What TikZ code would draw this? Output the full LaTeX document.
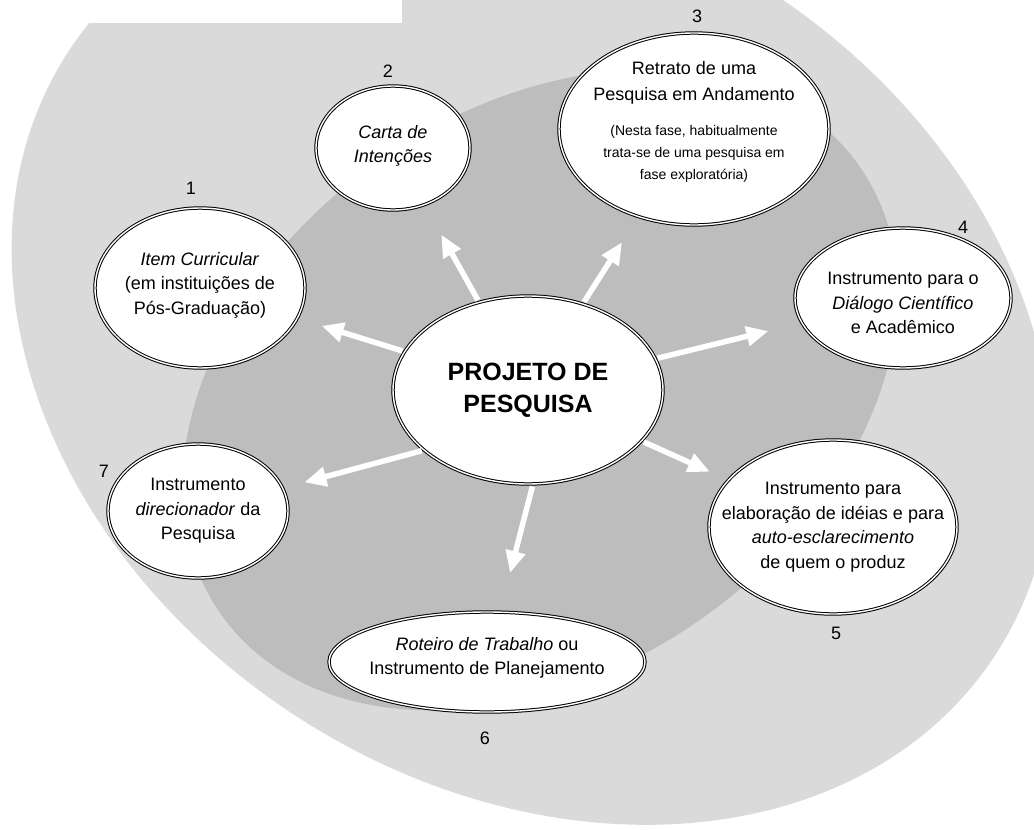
\documentclass[tikz,border=0pt]{standalone}
\usepackage{fontspec}
\setmainfont{Liberation Sans}
\usepackage{tikz}
\usetikzlibrary{arrows.meta,shapes.geometric}
\definecolor{fogouter}{HTML}{DADADA}
\definecolor{foginner}{HTML}{BDBDBD}

\begin{document}
\begin{tikzpicture}[x=1pt, y=-1pt,
  bubble/.style={ellipse, draw=black, line width=1pt, double=white,
    double distance=1.4pt, fill=white, inner sep=0pt},
  bubbletext/.style={font=\fontsize{18}{24.5}\selectfont, align=center, inner sep=0pt},
  numtag/.style={font=\fontsize{18}{20}\selectfont, inner sep=1pt},
  ray/.style={draw=white, line width=5.5pt, shorten <=2,
    -{Triangle[length=22pt, width=19pt]}}]
  \useasboundingbox (0,0) rectangle (1034,830);
  % Background fog
  \begin{scope}
    \clip (0,0) rectangle (1034,830);
    \fill[fogouter, rotate around={-33:(532,353)}] (532,353)
      ellipse [x radius=553, y radius=433];
    \fill[foginner, rotate around={35:(540,390)}] (540,390)
      ellipse [x radius=390, y radius=280];
    \fill[white] (0,0) rectangle (402,23);
  \end{scope}
  % Central bubble
  \node[bubble, minimum width=270, minimum height=188,
    label={[bubbletext, font=\bfseries\fontsize{25}{32}\selectfont]center:{PROJETO DE\\PESQUISA}}]
    (pp) at (528,390) {};
  % Outer bubbles
  \node[bubble, minimum width=210, minimum height=160,
    label={[bubbletext, yshift=3]center:{\textit{Item Curricular}\\(em instituições de\\Pós-Graduação)}}]
    (b1) at (200,288) {};
  \node[bubble, minimum width=154, minimum height=124,
    label={[bubbletext, yshift=2]center:{\textit{Carta de}\\\textit{Intenções}}}]
    (b2) at (393,148) {};
  \node[bubble, minimum width=270, minimum height=192,
    label={[bubbletext, font=\fontsize{14}{22}\selectfont, yshift=7]center:{%
      \fontsize{18}{22}\selectfont Retrato de uma\\[4pt]
      \fontsize{18}{22}\selectfont Pesquisa em Andamento\\[13pt]
      (Nesta fase, habitualmente\\
      trata-se de uma pesquisa em\\
      fase exploratória)}}]
    (b3) at (694,129) {};
  \node[bubble, minimum width=216, minimum height=140,
    label={[bubbletext, yshift=-5]center:{Instrumento para o\\\textit{Diálogo Científico}\\e Acadêmico}}]
    (b4) at (903,298) {};
  \node[bubble, minimum width=248, minimum height=174,
    label={[bubbletext]center:{Instrumento para\\elaboração de idéias e para\\\textit{auto-esclarecimento}\\de quem o produz}}]
    (b5) at (833,527) {};
  \node[bubble, minimum width=316, minimum height=100,
    label={[bubbletext, yshift=4]center:{\textit{Roteiro de Trabalho} ou\\Instrumento de Planejamento}}]
    (b6) at (487,662) {};
  \node[bubble, minimum width=180, minimum height=134,
    label={[bubbletext]center:{Instrumento\\\textit{direcionador} da\\Pesquisa}}]
    (b7) at (198,511) {};
  % Numbers
  \node[numtag] (n1) at (191,188) {1};
  \node[numtag] (n2) at (388,71) {2};
  \node[numtag] (n3) at (697,16) {3};
  \node[numtag] (n4) at (963,227) {4};
  \node[numtag] (n5) at (836,633) {5};
  \node[numtag] (n6) at (485,738) {6};
  \node[numtag] (n7) at (104,471) {7};
  % Arrows
  \foreach \b/\s/\gap in {b1/pp/25, b2/pp/34, b3/pp/30, b4/pp/34, b5/pp/20,
      b6/pp.273/40, b7/pp.210/22}
    \draw[ray, shorten >=\gap] (\s) -- (\b);
\end{tikzpicture}
\end{document}
